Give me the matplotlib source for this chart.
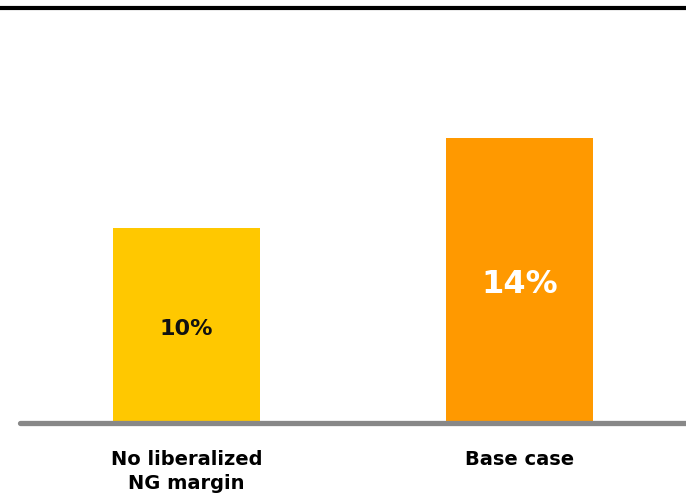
import matplotlib.pyplot as plt
from matplotlib.lines import Line2D

categories = ['No liberalized\nNG margin', 'Base case']
values = [9.6, 14.0]
value_labels = ['10%', '14%']
colors = ['#FFC800', '#FF9900']
label_colors = ['#111111', 'white']
label_sizes = [16, 23]

W, H = 686, 497
fig = plt.figure(figsize=(W / 100, H / 100), dpi=100)

# axes box in pixels: baseline at y=423, from x=20 to 686
left, right, base, top = 20, 686, 423, 8
ax = fig.add_axes([left / W, (H - base) / H, (right - left) / W, (base - top) / H])
ax.set_xlim(-0.5, 1.5)
ax.set_ylim(0, (base - top) / (285 / 14.0))
ax.axis('off')

x = range(len(categories))
bars = ax.bar(x, values, width=0.44, color=colors, zorder=2)

for rect, lab, c, s in zip(bars, value_labels, label_colors, label_sizes):
    ax.text(rect.get_x() + rect.get_width() / 2, rect.get_height() / 2 - 0.2, lab,
            ha='center', va='center', color=c, fontsize=s, fontweight='bold')

# gray baseline
ax.plot([-0.5, 1.5], [0, 0], color='#888888', lw=3.8, solid_capstyle='round',
        zorder=3, clip_on=False)

for i, cat in enumerate(categories):
    ax.text(i, -1.35, cat, ha='center', va='top', fontsize=14,
            fontweight='bold', linespacing=1.3, color='black')

# black rule at top of figure
fig.add_artist(Line2D([0, 1], [1 - 8 / H, 1 - 8 / H], color='black', lw=3,
                      transform=fig.transFigure))

fig.savefig('out.png', dpi=100)
